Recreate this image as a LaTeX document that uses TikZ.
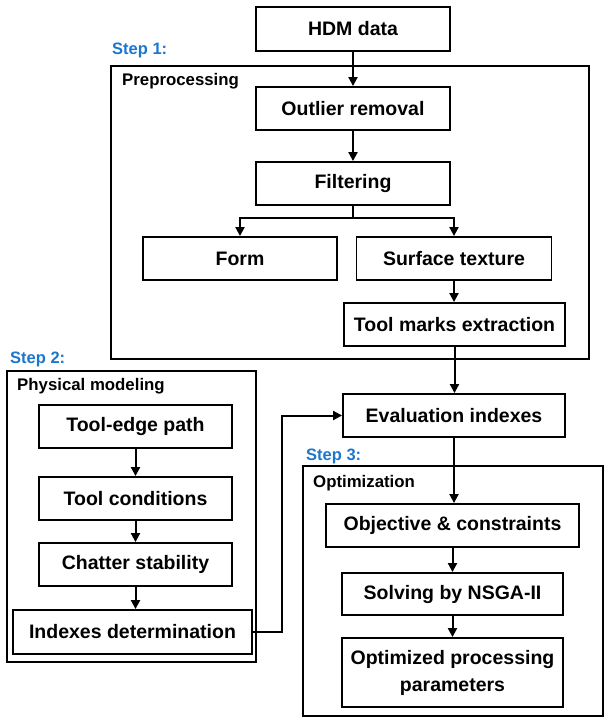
\documentclass[tikz,border=0pt]{standalone}
\usepackage{fontspec}
\setmainfont{Liberation Sans}
\usetikzlibrary{arrows.meta}
\definecolor{steplabel}{RGB}{28,118,205}
\begin{document}
\begin{tikzpicture}[x=1pt,y=-1pt,
  box/.style={draw, line width=1.9pt, inner sep=0pt, align=center,
    font=\bfseries\fontsize{19.5}{27}\selectfont},
  frame/.style={draw, line width=1.9pt, inner sep=0pt},
  steplbl/.style={anchor=base west, inner sep=0pt, text=steplabel,
    font=\bfseries\fontsize{16.5}{20}\selectfont},
  framelbl/.style={anchor=base west, inner sep=0pt,
    font=\bfseries\fontsize{16.8}{20}\selectfont},
  arr/.style={line width=2pt, -{Triangle[length=9pt,width=9pt]}},
  ln/.style={line width=2pt}]
\useasboundingbox (0,0) rectangle (605,717);
% frames
\node[frame, minimum width=478pt, minimum height=293pt] (pre) at (350,212.5) {};
\node[frame, minimum width=249pt, minimum height=291pt] (phy) at (131.5,516.5) {};
\node[frame, minimum width=300pt, minimum height=250pt] (opt) at (453,591) {};
% labels
\node[steplbl] (s1) at (112,55) {Step 1:};
\node[framelbl] (l1) at (122,85) {Preprocessing};
\node[steplbl] (s2) at (10,363) {Step 2:};
\node[framelbl] (l2) at (17,390) {Physical modeling};
\node[steplbl] (s3) at (306,460) {Step 3:};
\node[framelbl] (l3) at (313,487) {Optimization};
% boxes
\node[box, minimum width=194pt, minimum height=44pt] (hdm) at (353,29) {HDM data};
\node[box, minimum width=194pt, minimum height=43pt] (out) at (353,108.5) {Outlier removal};
\node[box, minimum width=194pt, minimum height=43pt] (filt) at (353,183.5) {Filtering};
\node[box, minimum width=194pt, minimum height=43pt] (form) at (240,258.5) {Form};
\node[box, minimum width=195pt, minimum height=43pt] (surf) at (454,258.5) {Surface texture};
\node[box, minimum width=221pt, minimum height=43pt] (tm) at (454.5,324.5) {Tool marks extraction};
\node[box, minimum width=222pt, minimum height=43pt] (eval) at (454,415.5) {Evaluation indexes};
\node[box, minimum width=193pt, minimum height=43pt] (te) at (135.5,426.5) {Tool-edge path};
\node[box, minimum width=193pt, minimum height=43pt] (tc) at (135.5,498.5) {Tool conditions};
\node[box, minimum width=193pt, minimum height=43pt] (cs) at (135.5,564.5) {Chatter stability};
\node[box, minimum width=239pt, minimum height=44pt] (idx) at (132.5,632) {Indexes determination};
\node[box, minimum width=253pt, minimum height=43pt] (obj) at (452.5,525.5) {Objective \& constraints};
\node[box, minimum width=221pt, minimum height=42pt] (sol) at (452.5,594) {Solving by NSGA-II};
\node[box, minimum width=221pt, minimum height=69pt] (optp) at (452.5,672.5) {Optimized processing\\parameters};
% connectors
\coordinate (br) at (353,218);
\coordinate (fb) at (282,415);
\draw[arr] (hdm) -- (out);
\draw[arr] (out) -- (filt);
\draw[ln] (filt.south) -- (br);
\draw[arr] (br) -| (form.north);
\draw[arr] (br) -| (surf.north);
\draw[arr] (surf.south) -- (surf.south |- tm.north);
\draw[arr] (tm.south) -- (tm.south |- eval.north);
\draw[arr] (eval.south) -- (eval.south |- obj.north);
\draw[arr] (obj.south) -- (obj.south |- sol.north);
\draw[arr] (sol) -- (optp);
\draw[arr] (te) -- (tc);
\draw[arr] (tc) -- (cs);
\draw[arr] (cs.south) -- (cs.south |- idx.north);
\draw[arr] (idx.east) -- (idx.east -| fb) |- (eval.west);
\end{tikzpicture}
\end{document}
